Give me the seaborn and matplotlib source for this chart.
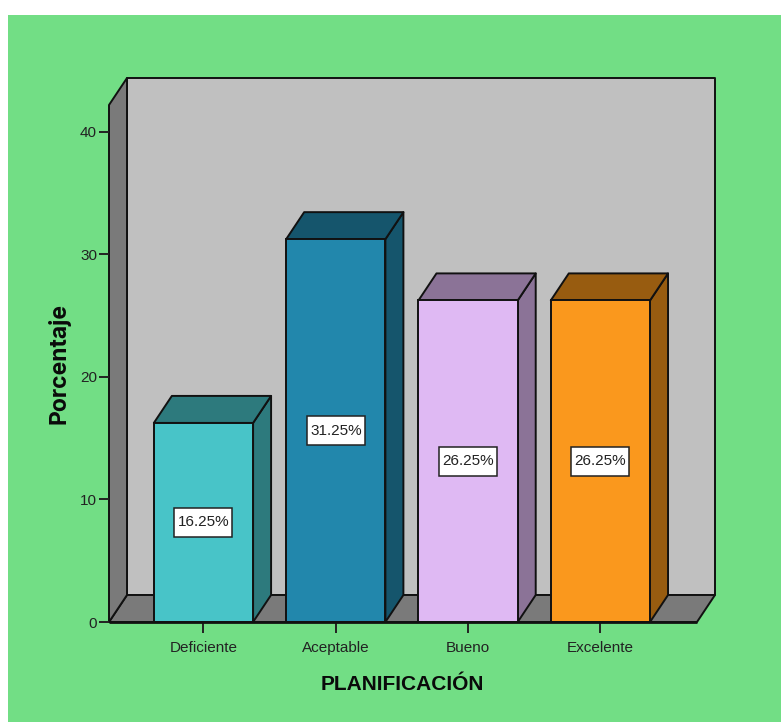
import matplotlib
matplotlib.use("Agg")
import matplotlib.pyplot as plt
from matplotlib.patches import Polygon, Rectangle
from matplotlib.transforms import Affine2D, ScaledTranslation
import seaborn as sns

categories = ["Deficiente", "Aceptable", "Bueno", "Excelente"]
percentages = [16.25, 31.25, 26.25, 26.25]
front_colors = ["#48C4C8", "#2287AC", "#DFB9F3", "#FA981D"]
side_colors = ["#2D7A7D", "#15556C", "#8B7397", "#985C10"]
y_ticks = [0, 10, 20, 30, 40]
x_title = "PLANIFICACIÓN"
y_title = "Porcentaje"

W, H = 781, 722
BG = "#72DE85"
WALL = "#C0C0C0"
FLOOR = "#7A7A7A"
EDGE = "#111111"

sns.set_theme(style="white")
plt.rcParams["font.family"] = ["Liberation Sans", "DejaVu Sans"]

fig = plt.figure(figsize=(W / 100, H / 100), dpi=100, facecolor="white")
fig.add_artist(Rectangle((8 / W, 0), 1, 1 - 15 / H, transform=fig.transFigure,
                         facecolor=BG, edgecolor="none", zorder=-5))

# Front plane of the 3D box, in pixels
left, right, top, bottom = 109, 697, 105, 622
ax = fig.add_axes([left / W, 1 - bottom / H, (right - left) / W, (bottom - top) / H])
ax.patch.set_alpha(0)

sns.barplot(x=categories, y=percentages, hue=categories, palette=front_colors,
            width=0.75, legend=False, saturation=1, ax=ax,
            edgecolor=EDGE, linewidth=1.4)

ax.set_xlim(-0.714, 3.73)
ax.set_ylim(0, 42.2)

# Depth of the extrusion in data units
xlo, xhi = ax.get_xlim()
yhi = ax.get_ylim()[1]
dx = 18 / ((right - left) / (xhi - xlo))
dy = 27 / ((bottom - top) / yhi)


def face(points, color, z, lw=1.4):
    ax.add_patch(Polygon(points, closed=True, facecolor=color, edgecolor=EDGE,
                         linewidth=lw, clip_on=False, zorder=z, joinstyle="round"))


# Box walls: back, floor, left side
face([(xlo + dx, dy), (xhi + dx, dy), (xhi + dx, yhi + dy), (xlo + dx, yhi + dy)], WALL, 0.1)
face([(xlo, 0), (xhi, 0), (xhi + dx, dy), (xlo + dx, dy)], FLOOR, 0.2)
face([(xlo, 0), (xlo + dx, dy), (xlo + dx, yhi + dy), (xlo, yhi)], FLOOR, 0.2)

# Side and top faces, taken from each bar's own geometry
for bar, side in zip(ax.patches[:len(categories)], side_colors):
    x0, x1, h = bar.get_x(), bar.get_x() + bar.get_width(), bar.get_height()
    face([(x1, 0), (x1 + dx, dy), (x1 + dx, h + dy), (x1, h)], side, 0.5)
    face([(x0, h), (x1, h), (x1 + dx, h + dy), (x0 + dx, h + dy)], side, 0.5)
    bar.set_zorder(1)
    bar.set_clip_on(False)
    cx, cy = x0 + bar.get_width() / 2, h / 2
    # Fixed-size label box, sized in pixels around the bar's midpoint
    ax.add_patch(Rectangle((-29, -14.5), 58, 29, facecolor="white", edgecolor="#222222",
                           linewidth=1.1, clip_on=False, zorder=2.5,
                           transform=Affine2D() + ScaledTranslation(cx, cy, ax.transData)))
    ax.text(cx, cy, f"{h:.2f}%", ha="center", va="center",
            fontsize=11, color="#222222", zorder=3)

ax.plot([xlo, xhi], [0, 0], color=EDGE, lw=2.0, clip_on=False, zorder=2,
        solid_capstyle="butt")

sns.despine(ax=ax, left=True, bottom=True, top=True, right=True)
ax.set_yticks(y_ticks)
ax.tick_params(axis="both", which="major", width=1.4, color="#222222",
               labelcolor="#222222", labelsize=11, left=True, bottom=True)
ax.tick_params(axis="y", length=7.2, pad=1.4)
ax.tick_params(axis="x", length=8, pad=5.5)
ax.set_xlabel("")
ax.set_ylabel("")

fig.text(402 / W, 1 - 685 / H, x_title, ha="center", va="center",
         fontsize=15, fontweight="bold", color="#0a0a0a")
fig.text(59 / W, 1 - 363 / H, y_title, ha="center", va="center", rotation=90,
         fontsize=16.5, fontweight="bold", family=["Inter", "Liberation Sans"],
         color="#0a0a0a")

fig.savefig("out.png", dpi=100)
